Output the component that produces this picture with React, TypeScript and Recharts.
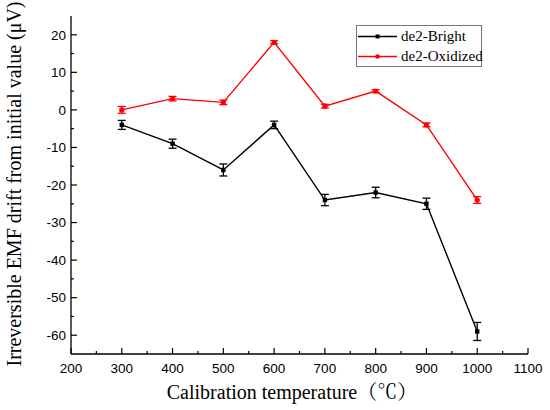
import React from 'react';
import { LineChart, Line, XAxis, YAxis, ErrorBar } from 'recharts';

const temperatures = [300, 400, 500, 600, 700, 800, 900, 1000];
const brightValues = [-4, -9, -16, -4, -24, -22, -25, -59];
const brightErrors = [1.2, 1.2, 1.6, 1.0, 1.5, 1.4, 1.5, 2.4];
const oxidizedValues = [0, 3, 2, 18, 1, 5, -4, -24];
const oxidizedErrors = [0.9, 0.6, 0.6, 0.4, 0.5, 0.4, 0.5, 0.9];
const xTicks = [200, 250, 300, 350, 400, 450, 500, 550, 600, 650, 700, 750, 800, 850, 900, 950, 1000, 1050, 1100];
const yTicks = [-60, -55, -50, -45, -40, -35, -30, -25, -20, -15, -10, -5, 0, 5, 10, 15, 20];
const seriesNames = ['de2-Bright', 'de2-Oxidized'];

const data = temperatures.map((t, i) => ({
  t,
  bright: brightValues[i],
  brightErr: brightErrors[i],
  oxidized: oxidizedValues[i],
  oxidizedErr: oxidizedErrors[i],
}));

const tickFont = '"Liberation Sans", Arial, sans-serif';
const serif = '"Liberation Serif", "Times New Roman", "Noto Serif CJK SC", "Noto Sans CJK SC", serif';

const XTick = (props: any) => {
  const { x, y, payload } = props;
  const major = payload.value % 100 === 0;
  return (
    <g>
      <line x1={x} y1={y} x2={x} y2={y - (major ? 6 : 3)} stroke="#000" strokeWidth={1.2} />
      {major && (
        <text x={x} y={y + 18.5} textAnchor="middle" fontFamily={tickFont} fontSize={13.5} fill="#000">
          {payload.value}
        </text>
      )}
    </g>
  );
};

const YTick = (props: any) => {
  const { x, y, payload } = props;
  const major = payload.value % 10 === 0;
  return (
    <g>
      <line x1={x} y1={y} x2={x + (major ? 6 : 3)} y2={y} stroke="#000" strokeWidth={1.2} />
      {major && (
        <text x={x - 5} y={y + 4.8} textAnchor="end" fontFamily={tickFont} fontSize={13.5} fill="#000">
          {payload.value}
        </text>
      )}
    </g>
  );
};

const SquareDot = (props: any) => {
  const { cx, cy } = props;
  if (cx == null || cy == null) return null;
  return <rect x={cx - 2.2} y={cy - 2.2} width={4.4} height={4.4} fill="#000" />;
};

const RoundDot = (props: any) => {
  const { cx, cy } = props;
  if (cx == null || cy == null) return null;
  return <circle cx={cx} cy={cy} r={2.6} fill="#ff0000" />;
};

const legendItems = [
  { name: seriesNames[0], color: '#000', square: true },
  { name: seriesNames[1], color: '#ff0000', square: false },
];

export default function App() {
  return (
    <div style={{ position: 'absolute', left: 0, top: 0, width: 550, height: 410, background: '#fff' }}>
      <LineChart width={550} height={410} data={data} margin={{ top: 16, right: 22, bottom: 0, left: 0 }}>
        <XAxis
          xAxisId="main"
          dataKey="t"
          type="number"
          domain={[200, 1100]}
          ticks={xTicks}
          interval={0}
          height={56}
          tickSize={0}
          tickMargin={0}
          tick={<XTick />}
          axisLine={{ stroke: '#000', strokeWidth: 1.3 }}
          tickLine={false}
        />
        <XAxis
          xAxisId="top"
          orientation="top"
          dataKey="t"
          type="number"
          domain={[200, 1100]}
          height={0}
          tick={false}
          tickLine={false}
          axisLine={{ stroke: '#000', strokeWidth: 1.3 }}
        />
        <YAxis
          yAxisId="main"
          type="number"
          domain={[-65, 25]}
          ticks={yTicks}
          interval={0}
          width={71}
          tickSize={0}
          tickMargin={0}
          tick={<YTick />}
          axisLine={{ stroke: '#000', strokeWidth: 1.3 }}
          tickLine={false}
        />
        <YAxis
          yAxisId="right"
          orientation="right"
          type="number"
          domain={[-65, 25]}
          width={0}
          tick={false}
          tickLine={false}
          axisLine={{ stroke: '#000', strokeWidth: 1.3 }}
        />
        <Line
          xAxisId="main"
          yAxisId="main"
          dataKey="bright"
          name={seriesNames[0]}
          stroke="#000"
          strokeWidth={1.4}
          dot={<SquareDot />}
          activeDot={false}
          isAnimationActive={false}
        >
          <ErrorBar dataKey="brightErr" width={4} stroke="#000" strokeWidth={1.3} direction="y" />
        </Line>
        <Line
          xAxisId="main"
          yAxisId="main"
          dataKey="oxidized"
          name={seriesNames[1]}
          stroke="#ff0000"
          strokeWidth={1.4}
          dot={<RoundDot />}
          activeDot={false}
          isAnimationActive={false}
        >
          <ErrorBar dataKey="oxidizedErr" width={4} stroke="#ff0000" strokeWidth={1.3} direction="y" />
        </Line>
      </LineChart>
      <div
        style={{
          position: 'absolute',
          left: 356,
          top: 25,
          width: 124,
          height: 40,
          border: '1px solid #777',
          background: '#fff',
          fontFamily: serif,
          fontSize: 15,
          color: '#000',
          whiteSpace: 'nowrap',
        }}
      >
        {legendItems.map((item) => (
          <div key={item.name} style={{ display: 'flex', alignItems: 'center', height: 20, lineHeight: '20px' }}>
            <svg width={44} height={20} style={{ display: 'block', flex: 'none' }}>
              <line x1={1} y1={10.5} x2={40} y2={10.5} stroke={item.color} strokeWidth={1.4} />
              {item.square ? (
                <rect x={18.5} y={8.5} width={4} height={4} fill={item.color} />
              ) : (
                <circle cx={20.5} cy={10.5} r={2.3} fill={item.color} />
              )}
            </svg>
            <span>{item.name}</span>
          </div>
        ))}
      </div>
      <div
        style={{
          position: 'absolute',
          left: 14,
          top: 184,
          transform: 'translate(-50%, -50%) rotate(-90deg)',
          whiteSpace: 'nowrap',
          fontFamily: serif,
          fontSize: 20,
          lineHeight: '22px',
          color: '#000',
        }}
      >
        Irreversible EMF drift from initial value (μV)
      </div>
      <div
        style={{
          position: 'absolute',
          left: 292,
          top: 392,
          transform: 'translate(-50%, -50%)',
          whiteSpace: 'nowrap',
          fontFamily: serif,
          fontSize: 20,
          lineHeight: '22px',
          color: '#000',
        }}
      >
        Calibration temperature（℃）
      </div>
    </div>
  );
}
